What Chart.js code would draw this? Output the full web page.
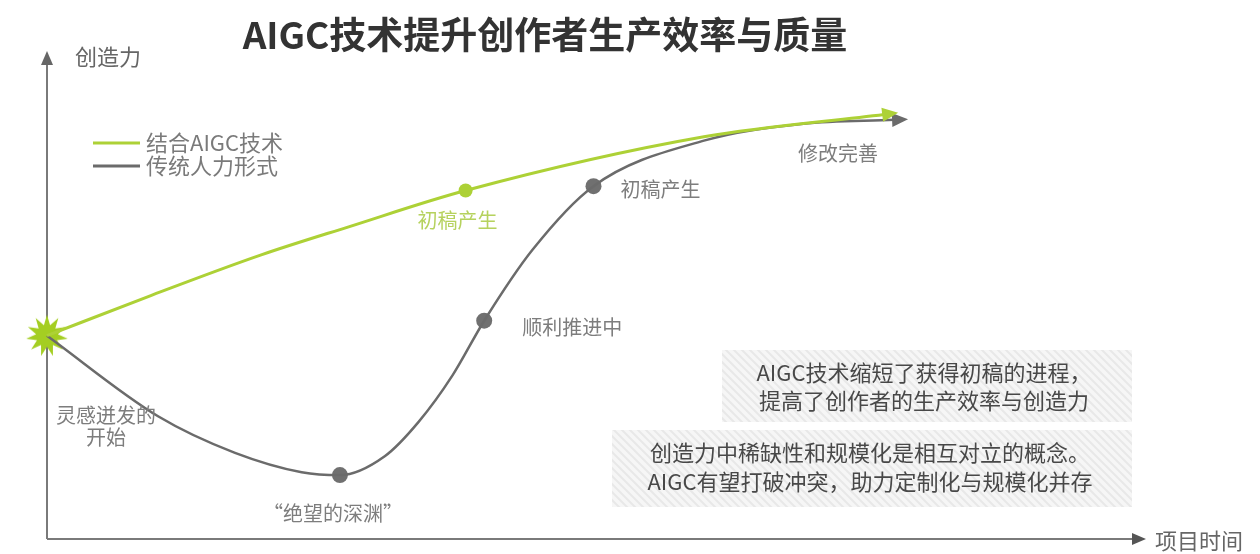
<!DOCTYPE html>
<html>
<head>
<meta charset="utf-8">
<script src="https://cdn.jsdelivr.net/npm/chart.js@4"></script>
<style>
    html, body { margin: 0; background: #fff; }
</style>
</head>
<body>
<canvas id="chart" width="1260" height="554"></canvas>
<script>
// --- data (x: project time 0..100, y: creativity 0..100) ---
const aiX = [0, 9.5, 19.6, 27.6, 38.3, 60.1, 76.6];
const aiY = [42, 50.3, 58.7, 64.5, 72.0, 83.1, 87.7];

const humanX = [0, 10.2, 17.2, 23.3, 26.8, 30.9, 34.0, 37.1, 40.0, 44.4, 50.0, 60.1, 69.2, 77.5];
const humanY = [42, 25.3, 17.8, 13.8, 13.2, 17.1, 24.2, 33.8, 45.1, 59.7, 72.9, 82.3, 85.8, 86.6];

const aiMilestoneX = [38.3];
const aiMilestoneY = [72.0];
const humanMilestoneX = [26.8, 40.0, 50.0];
const humanMilestoneY = [13.2, 45.1, 72.9];

const startX = [0];
const startY = [42];

// --- texts ---
const titleText = 'AIGC技术提升创作者生产效率与质量';
const yAxisTitle = '创造力';
const xAxisTitle = '项目时间';
const seriesNames = ['结合AIGC技术', '传统人力形式'];
const aiMilestoneLabels = ['初稿产生'];
const humanMilestoneLabels = ['“绝望的深渊”', '顺利推进中', '初稿产生'];
const startLabel = ['灵感迸发的', '开始'];
const endLabel = '修改完善';
const noteA = ['AIGC技术缩短了获得初稿的进程，', '提高了创作者的生产效率与创造力'];
const noteB = ['创造力中稀缺性和规模化是相互对立的概念。', 'AIGC有望打破冲突，助力定制化与规模化并存'];

const GREEN = '#add136';
const GREEN_TEXT = '#b6d25e';
const GRAY = '#6b6b6b';
const LABEL = '#7d7d7d';
const FONT = '"Noto Sans CJK SC", "Noto Sans", sans-serif';

const toPoints = (xs, ys) => xs.map((x, i) => ({ x: x, y: ys[i] }));

// burst used as the "spark" marker at the start
function makeStar() {
    const c = document.createElement('canvas');
    c.width = 46; c.height = 46;
    const g = c.getContext('2d');
    const spikes = 11, outer = 21, inner = 11;
    g.beginPath();
    for (let i = 0; i < spikes * 2; i++) {
        const r = i % 2 === 0 ? outer : inner;
        const a = -Math.PI / 2 + i * Math.PI / spikes;
        g.lineTo(23 + r * Math.cos(a), 23 + r * Math.sin(a));
    }
    g.closePath();
    g.fillStyle = '#a4ce22';
    g.fill();
    return c;
}

function hatchPattern(ctx) {
    const c = document.createElement('canvas');
    c.width = 8; c.height = 8;
    const g = c.getContext('2d');
    g.fillStyle = '#f6f6f6';
    g.fillRect(0, 0, 8, 8);
    g.strokeStyle = '#e8e8e8';
    g.lineWidth = 2;
    g.beginPath();
    g.moveTo(-2, -2); g.lineTo(10, 10);
    g.moveTo(-2, 6); g.lineTo(2, 10);
    g.moveTo(6, -2); g.lineTo(10, 2);
    g.stroke();
    return ctx.createPattern(c, 'repeat');
}

function drawText(ctx, str, x, y, size, color, align, weight) {
    ctx.save();
    ctx.font = (weight || 'normal') + ' ' + size + 'px ' + FONT;
    ctx.fillStyle = color;
    ctx.textAlign = align || 'center';
    ctx.textBaseline = 'middle';
    ctx.fillText(str, x, y);
    ctx.restore();
}

function arrowHead(ctx, x, y, angle, len, half, color) {
    ctx.save();
    ctx.translate(x, y);
    ctx.rotate(angle);
    ctx.beginPath();
    ctx.moveTo(len, 0);
    ctx.lineTo(0, -half);
    ctx.lineTo(0, half);
    ctx.closePath();
    ctx.fillStyle = color;
    ctx.fill();
    ctx.restore();
}

// axes, note boxes, arrows and all annotation text
const decorPlugin = {
    id: 'decor',
    beforeDatasetsDraw(chart) {
        const { ctx, chartArea: a } = chart;
        ctx.save();
        // note boxes
        ctx.fillStyle = hatchPattern(ctx);
        ctx.fillRect(722, 350, 410, 72);
        ctx.fillRect(612, 430, 520, 77);
        // axes
        ctx.strokeStyle = '#7a7a7a';
        ctx.lineWidth = 2;
        ctx.beginPath();
        ctx.moveTo(a.left, a.bottom);
        ctx.lineTo(a.left, a.top + 6);
        ctx.moveTo(a.left, a.bottom);
        ctx.lineTo(a.right - 4, a.bottom);
        ctx.stroke();
        ctx.restore();
        arrowHead(ctx, a.left, a.top + 10, -Math.PI / 2, 14, 6, '#666');
        arrowHead(ctx, a.right - 8, a.bottom, 0, 14, 6, '#555');
    },
    afterDatasetsDraw(chart) {
        const { ctx } = chart;

        // arrow heads on curve ends
        [1, 0].forEach(i => {
            const pts = chart.getDatasetMeta(i).data;
            const last = pts[pts.length - 1];
            const prev = pts[pts.length - 2];
            const px = last.cp1x !== undefined ? last.cp1x : prev.x;
            const py = last.cp1y !== undefined ? last.cp1y : prev.y;
            const ang = Math.atan2(last.y - py, last.x - px);
            arrowHead(ctx, last.x - 2 * Math.cos(ang), last.y - 2 * Math.sin(ang), ang, 16, 7,
                chart.data.datasets[i].borderColor);
        });

        // title and axis names
        drawText(ctx, titleText, 545, 35, 37, '#333', 'center', 'bold');
        drawText(ctx, yAxisTitle, 75, 57, 22, '#666', 'left');
        drawText(ctx, xAxisTitle, 1155, 541, 22, '#666', 'left');

        // legend
        const legendY = [143, 166];
        chart.data.datasets.slice(0, 2).forEach((ds, i) => {
            ctx.save();
            ctx.strokeStyle = ds.borderColor;
            ctx.lineWidth = 3;
            ctx.beginPath();
            ctx.moveTo(93, legendY[i]);
            ctx.lineTo(140, legendY[i]);
            ctx.stroke();
            ctx.restore();
            drawText(ctx, seriesNames[i], 146, legendY[i], 22, '#7a7a7a', 'left');
        });

        // milestone labels
        const aiPts = chart.getDatasetMeta(2).data;
        aiMilestoneLabels.forEach((t, i) => {
            drawText(ctx, t, aiPts[i].x - 8, aiPts[i].y + 30, 20, GREEN_TEXT, 'center');
        });
        const hPts = chart.getDatasetMeta(3).data;
        drawText(ctx, humanMilestoneLabels[0], hPts[0].x - 7, hPts[0].y + 38, 20, LABEL, 'center');
        drawText(ctx, humanMilestoneLabels[1], hPts[1].x + 38, hPts[1].y + 7, 20, LABEL, 'left');
        drawText(ctx, humanMilestoneLabels[2], hPts[2].x + 27, hPts[2].y + 3, 20, LABEL, 'left');

        const s = chart.getDatasetMeta(4).data[0];
        startLabel.forEach((t, i) => {
            drawText(ctx, t, s.x + 59, s.y + 80 + i * 22, 20, LABEL, 'center');
        });

        const hLine = chart.getDatasetMeta(1).data;
        const end = hLine[hLine.length - 1];
        drawText(ctx, endLabel, end.x - 56, end.y + 34, 20, LABEL, 'center');

        // notes
        noteA.forEach((t, i) => drawText(ctx, t, 924, 373 + i * 28, 22, '#484848', 'center'));
        noteB.forEach((t, i) => drawText(ctx, t, 870, 453 + i * 29, 22, '#484848', 'center'));
    }
};

new Chart(document.getElementById('chart'), {
    type: 'line',
    data: {
        datasets: [
            {
                label: seriesNames[0],
                data: toPoints(aiX, aiY),
                borderColor: GREEN,
                borderWidth: 3,
                pointRadius: 0,
                cubicInterpolationMode: 'monotone',
                clip: false
            },
            {
                label: seriesNames[1],
                data: toPoints(humanX, humanY),
                borderColor: GRAY,
                borderWidth: 2.5,
                pointRadius: 0,
                cubicInterpolationMode: 'monotone',
                clip: false
            },
            {
                label: 'ai-milestones',
                data: toPoints(aiMilestoneX, aiMilestoneY),
                showLine: false,
                pointRadius: 7,
                pointBackgroundColor: GREEN,
                pointBorderWidth: 0,
                clip: false
            },
            {
                label: 'human-milestones',
                data: toPoints(humanMilestoneX, humanMilestoneY),
                showLine: false,
                pointRadius: 8,
                pointBackgroundColor: '#707070',
                pointBorderWidth: 0,
                clip: false
            },
            {
                label: 'start',
                data: toPoints(startX, startY),
                showLine: false,
                pointStyle: makeStar(),
                clip: false
            }
        ]
    },
    options: {
        responsive: false,
        animation: false,
        layout: { padding: { left: 47, right: 120, top: 55, bottom: 15 } },
        scales: {
            x: { type: 'linear', min: 0, max: 100, display: false },
            y: { type: 'linear', min: 0, max: 100, display: false }
        },
        plugins: {
            legend: { display: false },
            tooltip: { enabled: false }
        }
    },
    plugins: [decorPlugin]
});
</script>
</body>
</html>
